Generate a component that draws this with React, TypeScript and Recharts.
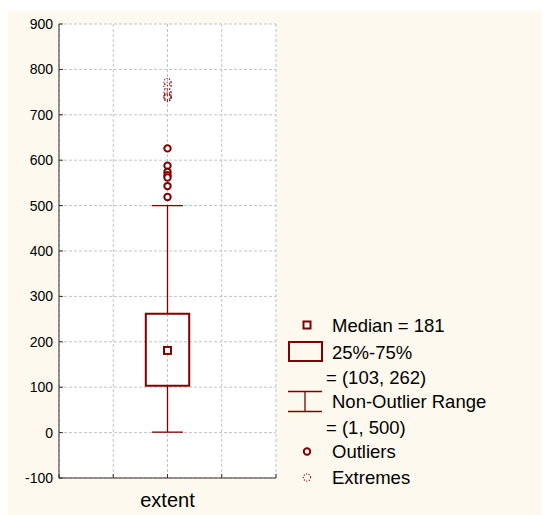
import React from 'react';
import {
  ComposedChart,
  XAxis,
  YAxis,
  CartesianGrid,
  Scatter,
  ReferenceArea,
  ReferenceLine,
} from 'recharts';

// one box per variable
const categories = ['extent'];
const medians = [181];
const quartiles = [[103, 262]];
const whiskers = [[1, 500]];
const outliers = [626, 588, 574, 567, 562, 543, 519];
const extremes = [772, 763, 750, 742, 739, 737];
const yTicks = [-100, 0, 100, 200, 300, 400, 500, 600, 700, 800, 900];
const xTicks = [0, 1, 2, 3, 4];

const RED = '#800000';
const CREAM = '#fdf9ee';
const AXIS = '#303030';
const FONT = '"Liberation Sans", Arial, sans-serif';

const BOX_HALF = 0.4;
const CAP_HALF = 0.285;
const CAT_X = 2;

const medianData = medians.map((y) => ({ x: CAT_X, y }));
const outlierData = outliers.map((y) => ({ x: CAT_X, y }));
const extremeData = extremes.map((y) => ({ x: CAT_X, y }));

const MedianShape = ({ cx, cy }: any) => (
  <rect x={cx - 3.5} y={cy - 3.5} width={7} height={7} fill="#fff" stroke={RED} strokeWidth={2} />
);

const OutlierShape = ({ cx, cy }: any) => (
  <circle cx={cx} cy={cy} r={3.2} fill="#fff" stroke={RED} strokeWidth={2} />
);

const ExtremeShape = ({ cx, cy }: any) => (
  <circle cx={cx} cy={cy} r={3.6} fill="none" stroke={RED} strokeWidth={1.2} strokeDasharray="1 1.6" />
);

const Legend = () => {
  const [q1, q3] = quartiles[0];
  const [lo, hi] = whiskers[0];
  const textProps = { x: 324, fontSize: 18.5, fill: '#000', dominantBaseline: 'central' as const, fontFamily: FONT };
  return (
    <svg width={541} height={504} style={{ position: 'absolute', left: 0, top: 0, pointerEvents: 'none' }}>
      <rect x={295.5} y={310.5} width={7} height={7} fill="#fff" stroke={RED} strokeWidth={2} />
      <text {...textProps} y={314}>{`Median = ${medians[0]}`}</text>

      <rect x={281} y={331} width={33} height={19} fill="none" stroke={RED} strokeWidth={2} />
      <text {...textProps} y={341.5}>25%-75%</text>
      <text {...textProps} x={318} y={366.5}>{`= (${q1}, ${q3})`}</text>

      <line x1={280} x2={314} y1={380.5} y2={380.5} stroke={RED} strokeWidth={1.3} />
      <line x1={280} x2={314} y1={400.5} y2={400.5} stroke={RED} strokeWidth={1.3} />
      <line x1={297} x2={297} y1={380.5} y2={400.5} stroke={RED} strokeWidth={1.3} />
      <text {...textProps} y={390.5}>Non-Outlier Range</text>
      <text {...textProps} x={318} y={416.5}>{`= (${lo}, ${hi})`}</text>

      <circle cx={299} cy={440.5} r={3.2} fill="#fff" stroke={RED} strokeWidth={2} />
      <text {...textProps} y={440.5}>Outliers</text>

      <circle cx={299} cy={466.5} r={3.6} fill="none" stroke={RED} strokeWidth={1.2} strokeDasharray="1 1.6" />
      <text {...textProps} y={466}>Extremes</text>
    </svg>
  );
};

export default function App() {
  const [q1, q3] = quartiles[0];
  const [lo, hi] = whiskers[0];
  return (
    <div style={{ paddingTop: 3 }}>
      <div style={{ position: 'relative', width: 541, height: 504, background: CREAM, fontFamily: FONT }}>
        <ComposedChart width={541} height={504} margin={{ top: 13, right: 273, bottom: 0, left: 0 }}>
          <CartesianGrid fill="#fff" fillOpacity={1} stroke="#c4c4c4" strokeDasharray="3 2" />
          <XAxis
            dataKey="x"
            type="number"
            domain={[0, 4]}
            ticks={xTicks}
            height={37}
            stroke={AXIS}
            tickSize={-4}
            tickMargin={18.5}
            tick={{ fill: '#000', fontSize: 20 }}
            tickFormatter={(v: number) => (v === CAT_X ? categories[0] : '')}
          />
          <XAxis
            xAxisId="top"
            orientation="top"
            type="number"
            domain={[0, 4]}
            ticks={xTicks}
            height={0}
            stroke={AXIS}
            tickSize={-4}
            tick={false}
          />
          <YAxis
            type="number"
            domain={[-100, 900]}
            ticks={yTicks}
            width={51}
            stroke={AXIS}
            tickSize={-4}
            tickMargin={10}
            tick={{ fill: '#000', fontSize: 14 }}
          />
          <YAxis
            yAxisId="right"
            orientation="right"
            type="number"
            domain={[-100, 900]}
            ticks={yTicks}
            width={0}
            stroke={AXIS}
            tickSize={-4}
            tick={false}
          />
          <ReferenceLine segment={[{ x: CAT_X, y: q3 }, { x: CAT_X, y: hi }]} stroke={RED} strokeWidth={1.3} />
          <ReferenceLine segment={[{ x: CAT_X, y: lo }, { x: CAT_X, y: q1 }]} stroke={RED} strokeWidth={1.3} />
          <ReferenceLine segment={[{ x: CAT_X - CAP_HALF, y: hi }, { x: CAT_X + CAP_HALF, y: hi }]} stroke={RED} strokeWidth={1.3} />
          <ReferenceLine segment={[{ x: CAT_X - CAP_HALF, y: lo }, { x: CAT_X + CAP_HALF, y: lo }]} stroke={RED} strokeWidth={1.3} />
          <ReferenceArea
            x1={CAT_X - BOX_HALF}
            x2={CAT_X + BOX_HALF}
            y1={q1}
            y2={q3}
            fill="#fff"
            fillOpacity={0}
            stroke={RED}
            strokeWidth={2}
          />
          <Scatter data={medianData} dataKey="y" shape={MedianShape} isAnimationActive={false} />
          <Scatter data={outlierData} dataKey="y" shape={OutlierShape} isAnimationActive={false} />
          <Scatter data={extremeData} dataKey="y" shape={ExtremeShape} isAnimationActive={false} />
        </ComposedChart>
        <Legend />
      </div>
    </div>
  );
}
